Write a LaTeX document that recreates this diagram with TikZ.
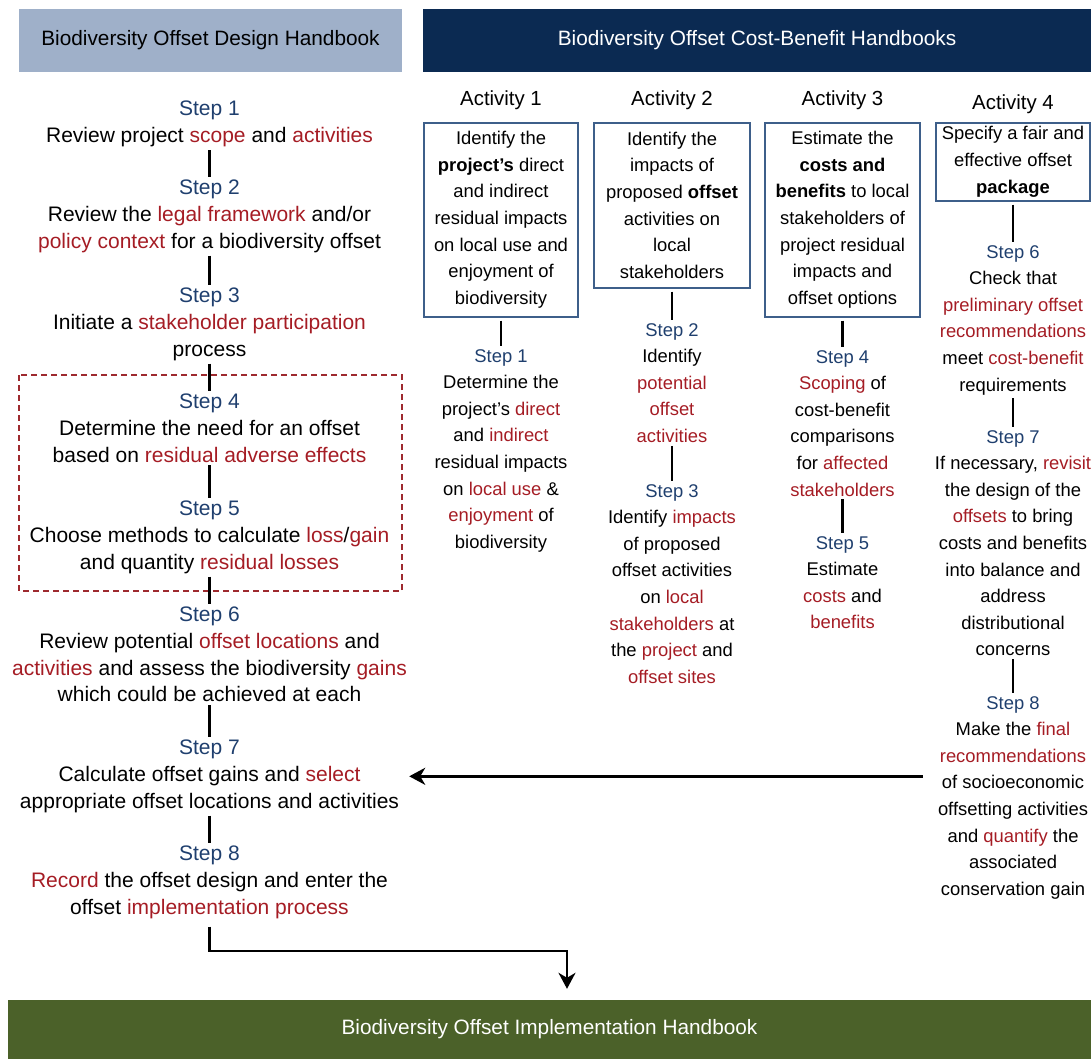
\documentclass[tikz,border=0pt]{standalone}
\usepackage{fontspec}
\setmainfont{Liberation Sans}
\usetikzlibrary{arrows.meta}

\definecolor{stepblue}{HTML}{1F3F6E}
\definecolor{hlred}{HTML}{A51C24}
\definecolor{boxblue}{HTML}{3E5F8A}
\definecolor{leftfill}{HTML}{9FB0C9}
\definecolor{rightfill}{HTML}{0B2A52}
\definecolor{implgreen}{HTML}{4B6129}
\definecolor{dashred}{HTML}{9E2A2F}

\newcommand{\redw}[1]{\textcolor{hlred}{#1}}
\newcommand{\stp}[1]{\textcolor{stepblue}{Step #1}}

\begin{document}
\begin{tikzpicture}[x=1pt,y=-1pt,
  lstep/.style={align=center,anchor=north,inner sep=0pt,font=\fontsize{21}{26.6}\selectfont},
  rstep/.style={align=center,anchor=north,inner sep=0pt,font=\fontsize{18.4}{26.6}\selectfont},
  actbox/.style={draw=boxblue,line width=1.6pt,align=center,anchor=north,inner sep=0pt,font=\fontsize{18.4}{26.6}\selectfont},
  actlabel/.style={anchor=base,inner sep=0pt,font=\fontsize{20.4}{24}\selectfont},
  banner/.style={inner sep=0pt,font=\fontsize{20.8}{24}\selectfont},
  link/.style={line width=2.7pt,shorten <=3pt,shorten >=3pt},
  arr/.style={line width=2.7pt,-{Stealth[length=16pt,width=17pt,inset=5pt]}},
  dashbox/.style={draw=dashred,line width=1.9pt,dash pattern=on 6pt off 4pt}]
\useasboundingbox (0,0) rectangle (1091,1059);

\node[banner,fill=leftfill,minimum width=383pt,minimum height=63pt] (design) at (210.5,40.5) {Biodiversity Offset Design Handbook};
\node[banner,fill=rightfill,text=white,minimum width=668pt,minimum height=63pt] (costben) at (757,40.5) {Biodiversity Offset Cost-Benefit Handbooks};
\node[banner,fill=implgreen,text=white,minimum width=1083pt,minimum height=59pt] (impl) at (549.5,1029.5) {Biodiversity Offset Implementation Handbook};

\node[lstep] (s1) at (209.5,101) {\stp{1}\\ Review project \redw{scope} and \redw{activities}};
\node[lstep] (s2) at (209.5,180) {\stp{2}\\ Review the \redw{legal framework} and/or\\ \redw{policy context} for a biodiversity offset};
\node[lstep] (s3) at (209.5,288) {\stp{3}\\ Initiate a \redw{stakeholder participation}\\ process};
\node[lstep] (s4) at (209.5,394) {\stp{4}\\ Determine the need for an offset\\ based on \redw{residual adverse effects}};
\node[lstep] (s5) at (209.5,501) {\stp{5}\\ Choose methods to calculate \redw{loss}/\redw{gain}\\ and quantity \redw{residual losses}};
\node[lstep] (s6) at (209.5,607) {\stp{6}\\ Review potential \redw{offset locations} and\\ \redw{activities} and assess the biodiversity \redw{gains}\\ which could be achieved at each};
\node[lstep] (s7) at (209.5,740) {\stp{7}\\ Calculate offset gains and \redw{select}\\ appropriate offset locations and activities};
\node[lstep] (s8) at (209.5,846) {\stp{8}\\ \redw{Record} the offset design and enter the\\ offset \redw{implementation process}};
\draw[dashbox] (19,375) rectangle (402,591);

\node[actlabel] (act1) at (501,106) {Activity 1};
\node[actlabel] (act2) at (672,106) {Activity 2};
\node[actlabel] (act3) at (842.5,106) {Activity 3};
\node[actlabel] (act4) at (1013,110) {Activity 4};

\node[actbox,minimum width=154pt,minimum height=194pt] (b1) at (501,122) {Identify the\\ \textbf{project's} direct\\ and indirect\\ residual impacts\\ on local use and\\ enjoyment of\\ biodiversity};
\node[actbox,minimum width=156pt,minimum height=165pt] (b2) at (672,122) {Identify the\\ impacts of\\ proposed \textbf{offset}\\ activities on\\ local\\ stakeholders};
\node[actbox,minimum width=155pt,minimum height=194pt] (b3) at (842.5,122) {Estimate the\\ \textbf{costs and}\\ \textbf{benefits} to local\\ stakeholders of\\ project residual\\ impacts and\\ offset options};
\node[actbox,minimum width=154pt,minimum height=78pt] (b4) at (1013,122) {Specify a fair and\\ effective offset\\ \textbf{package}};

\node[rstep] (a1s1) at (501,349) {\stp{1}\\ Determine the\\ project's \redw{direct}\\ and \redw{indirect}\\ residual impacts\\ on \redw{local use} \&\\ \redw{enjoyment} of\\ biodiversity};
\node[rstep] (a2s2) at (672,323) {\stp{2}\\ Identify\\ \redw{potential}\\ \redw{offset}\\ \redw{activities}};
\node[rstep] (a2s3) at (672,484) {\stp{3}\\ Identify \redw{impacts}\\ of proposed\\ offset activities\\ on \redw{local}\\ \redw{stakeholders} at\\ the \redw{project} and\\ \redw{offset sites}};
\node[rstep] (a3s4) at (842.5,350) {\stp{4}\\ \redw{Scoping} of\\ cost-benefit\\ comparisons\\ for \redw{affected}\\ \redw{stakeholders}};
\node[rstep] (a3s5) at (842.5,536) {\stp{5}\\ Estimate\\ \redw{costs} and\\ \redw{benefits}};
\node[rstep] (a4s6) at (1013,245) {\stp{6}\\ Check that\\ \redw{preliminary offset}\\ \redw{recommendations}\\ meet \redw{cost-benefit}\\ requirements};
\node[rstep] (a4s7) at (1013,430) {\stp{7}\\ If necessary, \redw{revisit}\\ the design of the\\ \redw{offsets} to bring\\ costs and benefits\\ into balance and\\ address\\ distributional\\ concerns};
\node[rstep] (a4s8) at (1013,696) {\stp{8}\\ Make the \redw{final}\\ \redw{recommendations}\\ of socioeconomic\\ offsetting activities\\ and \redw{quantify} the\\ associated\\ conservation gain};

\draw[link] (s1) -- (s2);
\draw[link] (s2) -- (s3);
\draw[link] (s3) -- (s4);
\draw[link] (s4) -- (s5);
\draw[link] (s5) -- (s6);
\draw[link] (s6) -- (s7);
\draw[link] (s7) -- (s8);
\draw[link] (b1) -- (a1s1);
\draw[link] (b2) -- (a2s2);
\draw[link] (a2s2) -- (a2s3);
\draw[link] (b3) -- (a3s4);
\draw[link] (a3s4) -- (a3s5);
\draw[link] (b4) -- (a4s6);
\draw[link] (a4s6) -- (a4s7);
\draw[link] (a4s7) -- (a4s8);

\coordinate (recfrom) at (a4s8.west |- s7.east);
\draw[arr] ([xshift=-15pt]recfrom) -- ([xshift=10pt]s7.east);
\coordinate (turn) at (567,951);
\draw[arr,shorten >=11pt] ([yshift=-8pt]s8.south) |- (turn) -- (turn |- impl.north);
\end{tikzpicture}
\end{document}
